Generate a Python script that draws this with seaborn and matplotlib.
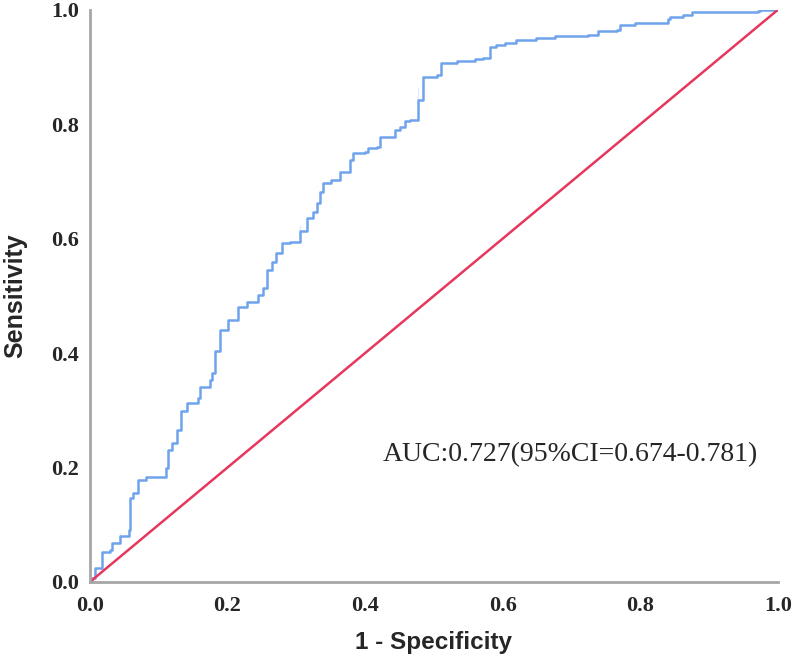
import matplotlib
matplotlib.use("Agg")
import matplotlib.pyplot as plt
import seaborn as sns
import pandas as pd

# ROC curve corner points
fpr = [0.0, 0.0025, 0.007, 0.017, 0.029, 0.032, 0.044, 0.044, 0.057, 0.058,
       0.0625, 0.070, 0.082, 0.111, 0.113, 0.119, 0.126, 0.133, 0.141, 0.157,
       0.160, 0.174, 0.177, 0.182, 0.189, 0.201, 0.215, 0.228, 0.244, 0.251,
       0.257, 0.264, 0.271, 0.279, 0.291, 0.305, 0.305, 0.315, 0.324, 0.330,
       0.334, 0.339, 0.351, 0.363, 0.378, 0.382, 0.400, 0.404, 0.417, 0.422,
       0.438, 0.443, 0.451, 0.458, 0.465, 0.477, 0.477, 0.484, 0.504, 0.511,
       0.533, 0.560, 0.571, 0.581, 0.591, 0.603, 0.620, 0.649, 0.676, 0.724,
       0.738, 0.766, 0.770, 0.792, 0.840, 0.843, 0.862, 0.876, 0.971, 0.974,
       1.0]
tpr = [0.0, 0.007, 0.024, 0.053, 0.056, 0.068, 0.073, 0.086, 0.091, 0.147,
       0.156, 0.178, 0.184, 0.199, 0.231, 0.243, 0.266, 0.298, 0.313, 0.322,
       0.341, 0.353, 0.365, 0.403, 0.441, 0.458, 0.481, 0.490, 0.502, 0.514,
       0.545, 0.560, 0.575, 0.593, 0.595, 0.604, 0.624, 0.636, 0.647, 0.663,
       0.682, 0.698, 0.703, 0.717, 0.738, 0.750, 0.752, 0.759, 0.761, 0.778,
       0.778, 0.790, 0.796, 0.805, 0.808, 0.820, 0.866, 0.883, 0.886, 0.907,
       0.910, 0.914, 0.916, 0.936, 0.939, 0.942, 0.948, 0.951, 0.955, 0.956,
       0.964, 0.965, 0.974, 0.978, 0.984, 0.988, 0.991, 0.997, 0.998, 1.0,
       1.0]
ref_line = [0.0, 1.0]
ticks = [0.0, 0.2, 0.4, 0.6, 0.8, 1.0]
auc_text = "AUC:0.727(95%CI=0.674-0.781)"

sns.set_style("white")

roc = pd.DataFrame({"fpr": fpr, "tpr": tpr})
diag = pd.DataFrame({"x": ref_line, "y": ref_line})

fig = plt.figure(figsize=(7.96, 6.62), dpi=100)
ax = fig.add_axes([0.113, 0.121, 0.864, 0.864])

sns.lineplot(data=roc, x="fpr", y="tpr", sort=False, color="#6fa3ec",
             linewidth=1.8, drawstyle="steps-post", ax=ax)
sns.lineplot(data=diag, x="x", y="y", color="#e6375d", linewidth=1.8, ax=ax)

ax.set_xlim(0, 1)
ax.set_ylim(0, 1)
ax.set_xticks(ticks)
ax.set_yticks(ticks)
ax.set_xticklabels([f"{t:.1f}" for t in ticks], fontfamily="Liberation Serif",
                   fontweight="bold", fontsize=16)
ax.set_yticklabels([f"{t:.1f}" for t in ticks], fontfamily="Liberation Serif",
                   fontweight="bold", fontsize=16)
ax.tick_params(axis="x", length=0, pad=10)
ax.tick_params(axis="y", length=0, pad=8)

for side in ["top", "right"]:
    ax.spines[side].set_visible(False)
for side in ["left", "bottom"]:
    ax.spines[side].set_color("#a6a6a6")
    ax.spines[side].set_linewidth(2)

ax.set_xlabel("1 - Specificity", fontfamily="Liberation Sans", fontweight="bold",
              fontsize=17.5, labelpad=11)
ax.set_ylabel("Sensitivity", fontfamily="Liberation Sans", fontweight="bold",
              fontsize=18, labelpad=17)

ax.text(0.426, 0.222, auc_text, fontfamily="Liberation Serif", fontsize=20,
        va="center", ha="left", transform=ax.transData)

fig.savefig("out.png", dpi=100)
